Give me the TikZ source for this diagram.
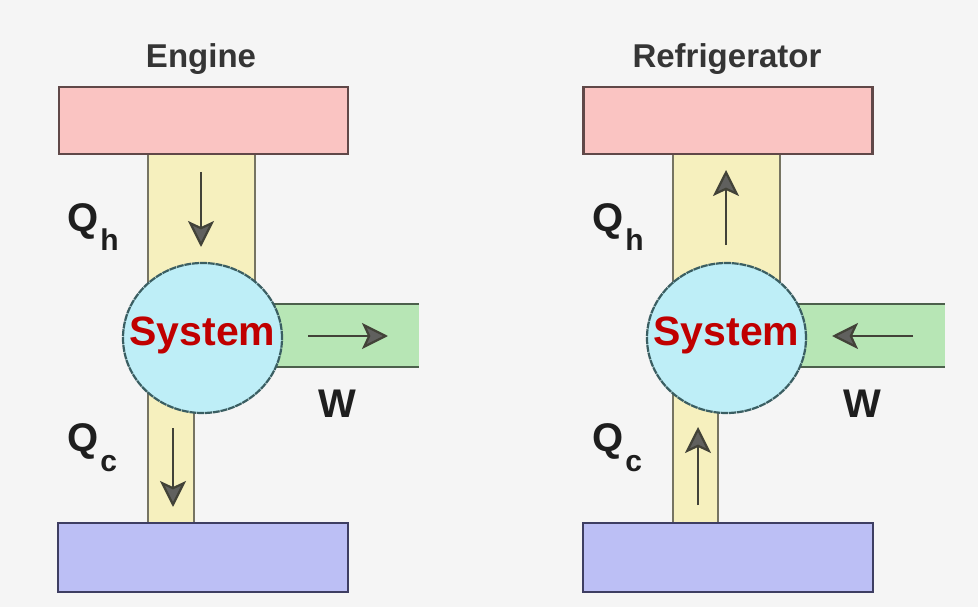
\documentclass[tikz,border=0pt]{standalone}
\usepackage{fontspec}
\setmainfont{Liberation Sans}
\usetikzlibrary{arrows.meta,shapes.geometric}
\definecolor{CycBack}{RGB}{245,245,245}
\definecolor{CycHot}{RGB}{250,196,194}
\definecolor{CycHotEdge}{RGB}{96,72,72}
\definecolor{CycCold}{RGB}{188,191,245}
\definecolor{CycColdEdge}{RGB}{62,62,98}
\definecolor{CycPipe}{RGB}{246,240,190}
\definecolor{CycPipeEdge}{RGB}{118,116,98}
\definecolor{CycSys}{RGB}{190,238,247}
\definecolor{CycSysEdge}{RGB}{58,94,98}
\definecolor{CycWork}{RGB}{183,230,181}
\definecolor{CycWorkEdge}{RGB}{76,96,76}
\definecolor{CycArrow}{RGB}{66,66,56}
\definecolor{CycHead}{RGB}{96,96,94}
\definecolor{CycRed}{RGB}{192,0,0}
\definecolor{CycInk}{RGB}{30,30,30}
\newcommand{\cycsub}[1]{\raisebox{-20pt}{\fontsize{30}{30}\selectfont #1}}
\tikzset{
  cyc/hot/.style={
    draw=CycHotEdge,
    line width=2.5pt,
    fill=CycHot,
    minimum width=289pt,
    minimum height=67pt,
    inner sep=0pt
  },
  cyc/cold/.style={
    draw=CycColdEdge,
    line width=2.5pt,
    fill=CycCold,
    minimum width=290pt,
    minimum height=69pt,
    inner sep=0pt
  },
  cyc/sys/.style={
    ellipse,
    draw=CycSysEdge,
    line width=2.2pt,
    dash pattern=on 7pt off 0.8pt,
    fill=CycSys,
    minimum width=159pt,
    minimum height=150pt,
    inner sep=0pt
  },
  cyc/pipe/.style={draw=CycPipeEdge, line width=2.5pt, fill=CycPipe},
  cyc/work/.style={fill=CycWork},
  cyc/workedge/.style={draw=CycWorkEdge, line width=2.5pt},
  cyc/flow/.style={-{Stealth[length=26pt,width=26pt,inset=6pt,fill=CycHead]}, line width=2.2pt, draw=CycArrow},
  cyc/systext/.style={font=\fontsize{41}{44}\selectfont\bfseries, text=CycRed, inner sep=0pt},
  cyc/title/.style={font=\fontsize{33}{36}\selectfont\bfseries, text=CycInk!90, inner sep=0pt, anchor=base},
  cyc/label/.style={font=\fontsize{40}{44}\selectfont\bfseries, text=CycInk, inner sep=0pt}
}
\begin{document}
\begin{tikzpicture}[x=1pt,y=-1pt]
  \fill[CycBack] (0,0) rectangle (978,607);
  \useasboundingbox (0,0) rectangle (978,607);

  % engine
  \node[cyc/title] (engTitle) at (201,68) {Engine};
  \draw[cyc/pipe] (148,154) rectangle (255,300);
  \draw[cyc/pipe] (148,385) rectangle (194,523);
  \fill[cyc/work] (250,304) rectangle (419,367);
  \draw[cyc/workedge] (250,304) -- (419,304) (250,367) -- (419,367);
  \node[cyc/hot] (engHot) at (203.5,120.5) {};
  \node[cyc/cold] (engCold) at (203,557.5) {};
  \node[cyc/sys] (engSys) at (202.5,338) {};
  \node[cyc/systext, yshift=2.5pt] (engSysText) at (engSys) {System};
  \coordinate (engQhFrom) at (201,172);
  \coordinate (engQhTo) at (201,247);
  \coordinate (engQcFrom) at (173,428);
  \coordinate (engQcTo) at (173,507);
  \coordinate (engWFrom) at (308,336);
  \coordinate (engWTo) at (388,336);
  \draw[cyc/flow] (engQhFrom) -- (engQhTo);
  \draw[cyc/flow] (engQcFrom) -- (engQcTo);
  \draw[cyc/flow] (engWFrom) -- (engWTo);
  \node[cyc/label, anchor=base west] (engQh) at (67,231) {Q\kern2pt\cycsub{h}};
  \node[cyc/label, anchor=base west] (engQc) at (67,451) {Q\kern2pt\cycsub{c}};
  \node[cyc/label, anchor=base] (engW) at (337.5,417) {W};

  % refrigerator
  \node[cyc/title] (refTitle) at (727,68) {Refrigerator};
  \draw[cyc/pipe] (673,154) rectangle (780,300);
  \draw[cyc/pipe] (673,385) rectangle (718,523);
  \fill[cyc/work] (775,304) rectangle (945,367);
  \draw[cyc/workedge] (775,304) -- (945,304) (775,367) -- (945,367);
  \node[cyc/hot] (refHot) at (728,120.5) {};
  \node[cyc/cold] (refCold) at (728,557.5) {};
  \node[cyc/sys] (refSys) at (726.5,338) {};
  \node[cyc/systext, yshift=2.5pt] (refSysText) at (refSys) {System};
  \coordinate (refQhFrom) at (726,245);
  \coordinate (refQhTo) at (726,170);
  \coordinate (refQcFrom) at (698,505);
  \coordinate (refQcTo) at (698,427);
  \coordinate (refWFrom) at (913,336);
  \coordinate (refWTo) at (832,336);
  \draw[cyc/flow] (refQhFrom) -- (refQhTo);
  \draw[cyc/flow] (refQcFrom) -- (refQcTo);
  \draw[cyc/flow] (refWFrom) -- (refWTo);
  \node[cyc/label, anchor=base west] (refQh) at (592,231) {Q\kern2pt\cycsub{h}};
  \node[cyc/label, anchor=base west] (refQc) at (592,451) {Q\kern2pt\cycsub{c}};
  \node[cyc/label, anchor=base] (refW) at (862.5,417) {W};
\end{tikzpicture}
\end{document}
